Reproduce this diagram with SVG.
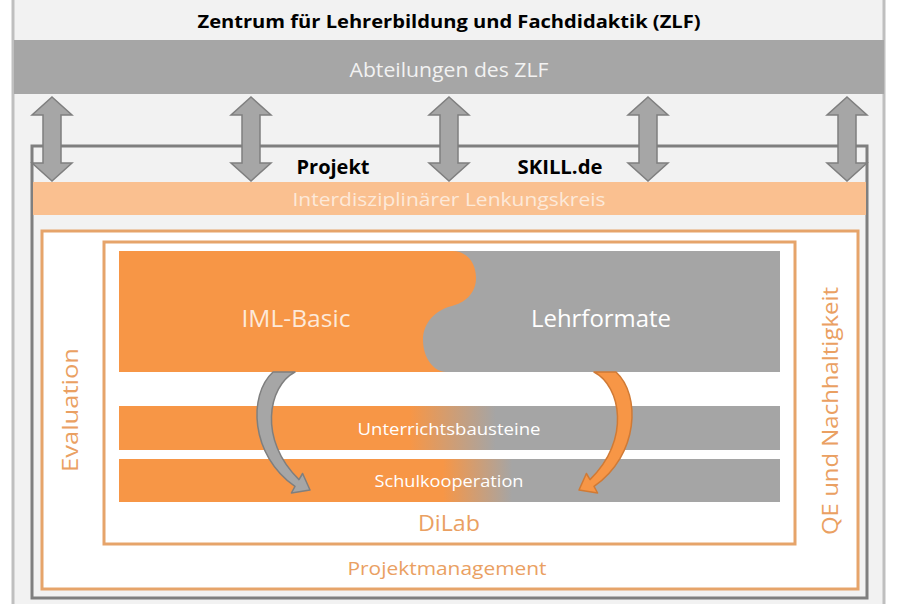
<svg xmlns="http://www.w3.org/2000/svg" width="905" height="604" viewBox="0 0 905 604">
<defs>
<style>
text{font-family:"Open Sans","Noto Sans","Liberation Sans",sans-serif;text-anchor:middle}
.b{font-weight:bold;fill:#000}
.or{fill:#eaa062}
.fr{fill:#ffffff;stroke:#e6a46a;stroke-width:3}
.dbl{fill:#a6a6a6;stroke:#7f7f7f;stroke-width:1.5}
</style>
<linearGradient id="g1" gradientUnits="userSpaceOnUse" x1="119" y1="0" x2="780" y2="0">
<stop offset="0.44" stop-color="#f79646"/><stop offset="0.57" stop-color="#a5a5a5"/>
</linearGradient>
<linearGradient id="g2" gradientUnits="userSpaceOnUse" x1="119" y1="0" x2="780" y2="0">
<stop offset="0.49" stop-color="#f79646"/><stop offset="0.595" stop-color="#a5a5a5"/>
</linearGradient>
</defs>
<rect x="0" y="0" width="905" height="604" fill="#ffffff"/>
<rect x="13" y="-5" width="871" height="615" fill="#f2f2f2" stroke="#bfbfbf" stroke-width="3"/>
<g id="zlf">
<text class="b" x="449" y="28" font-size="18" textLength="503" lengthAdjust="spacingAndGlyphs">Zentrum für Lehrerbildung und Fachdidaktik (ZLF)</text>
</g>
<g id="abteilungen">
<rect x="14" y="40" width="870" height="54" fill="#a6a6a6"/>
<text x="449" y="77" font-size="19.5" fill="#f2f2f2" textLength="199" lengthAdjust="spacingAndGlyphs">Abteilungen des ZLF</text>
</g>
<g id="projekt">
<rect x="32" y="146" width="835" height="452" fill="none" stroke="#7f7f7f" stroke-width="3"/>
<text class="b" x="333" y="174" font-size="20" textLength="73" lengthAdjust="spacingAndGlyphs">Projekt</text>
<text class="b" x="560" y="174" font-size="20" textLength="85" lengthAdjust="spacingAndGlyphs">SKILL.de</text>
</g>
<g id="lenkungskreis">
<rect x="33" y="182" width="833" height="33" fill="#fac090"/>
<text x="449" y="206" font-size="19" fill="#fde9d9" textLength="313" lengthAdjust="spacingAndGlyphs">Interdisziplinärer Lenkungskreis</text>
</g>
<g id="projektmanagement">
<rect x="42" y="231" width="816" height="358" class="fr"/>
<text class="or" x="447" y="575" font-size="19" textLength="199" lengthAdjust="spacingAndGlyphs">Projektmanagement</text>
</g>
<g id="evaluation">
<text class="or" transform="translate(78,410) rotate(-90)" x="0" y="0" font-size="22" textLength="124" lengthAdjust="spacingAndGlyphs">Evaluation</text>
</g>
<g id="qe">
<text class="or" transform="translate(838,411) rotate(-90)" x="0" y="0" font-size="22" textLength="248" lengthAdjust="spacingAndGlyphs">QE und Nachhaltigkeit</text>
</g>
<g id="dilab">
<rect x="104" y="242" width="691" height="302" class="fr"/>
<text class="or" x="449" y="531" font-size="22" textLength="62" lengthAdjust="spacingAndGlyphs">DiLab</text>
</g>
<g id="lehrformate">
<rect x="119" y="251" width="661" height="121" fill="#a5a5a5"/>
<text x="601" y="327" font-size="24" fill="#ffffff" textLength="140" lengthAdjust="spacingAndGlyphs">Lehrformate</text>
</g>
<g id="iml-basic">
<path d="M119,251 H452 C468,251 476,264 476,278 C476,294 464,303 452,306 C436,310 423,322 423,340 C423,358 434,372 446,372 H119 Z" fill="#f79646"/>
<text x="296" y="327" font-size="24" fill="#fde9d9" textLength="109" lengthAdjust="spacingAndGlyphs">IML-Basic</text>
</g>
<g id="unterrichtsbausteine">
<rect x="119" y="406" width="661" height="44" fill="url(#g1)"/>
<text x="449" y="435" font-size="16" fill="#ffffff" textLength="183" lengthAdjust="spacingAndGlyphs">Unterrichtsbausteine</text>
</g>
<g id="schulkooperation">
<rect x="119" y="459" width="661" height="43" fill="url(#g2)"/>
<text x="449" y="487" font-size="16" fill="#ffffff" textLength="149" lengthAdjust="spacingAndGlyphs">Schulkooperation</text>
</g>
<g id="connectors">
<polygon class="dbl" points="52,97 72,115 61,115 61,163 72,163 52,181 32,163 43,163 43,115 32,115"/>
<polygon class="dbl" points="251,97 271,115 260,115 260,163 271,163 251,181 231,163 242,163 242,115 231,115"/>
<polygon class="dbl" points="449,97 469,115 458,115 458,163 469,163 449,181 429,163 440,163 440,115 429,115"/>
<polygon class="dbl" points="648,97 668,115 657,115 657,163 668,163 648,181 628,163 639,163 639,115 628,115"/>
<polygon class="dbl" points="847,97 867,115 856,115 856,163 867,163 847,181 827,163 838,163 838,115 827,115"/>
<path d="M295,372 C268,386 258,440 299,479.6 L302.6,473.5 L310,490 L291.4,493 L295,486.4 C250,455 248,395 273,372 Z" fill="#a6a6a6" stroke="#7f7f7f" stroke-width="1.5" stroke-linejoin="round"/>
<path d="M594,372 C621,386 631,440 590,479.6 L586.4,473.5 L579,490 L597.6,493 L594,486.4 C639,455 641,395 616,372 Z" fill="#f79646" stroke="#d07a35" stroke-width="1.5" stroke-linejoin="round"/>
</g>
</svg>
